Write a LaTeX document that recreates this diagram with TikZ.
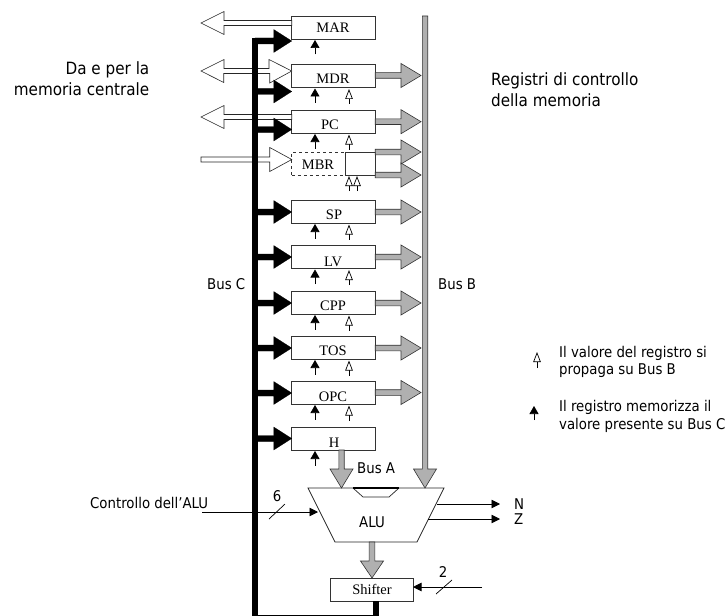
\documentclass[tikz,border=0pt]{standalone}
\usepackage{fontspec}
\setmainfont{Liberation Serif}
\newfontfamily\labfont{DejaVu Sans Condensed}
\usetikzlibrary{calc,arrows.meta,positioning}
\definecolor{busgrey}{RGB}{176,176,176}
\tikzset{
  regbox/.style={draw=black!80,line width=0.7pt,fill=white,minimum width=83.5pt,minimum height=23pt,inner sep=0pt,outer sep=0pt},
  regtext/.style={anchor=base,inner sep=0pt,font=\fontsize{14.5}{16}\selectfont},
  lab/.style={anchor=base west,inner sep=0pt,font=\labfont\fontsize{14.8}{16}\selectfont},
  biglab/.style={lab,font=\labfont\fontsize{16.9}{19}\selectfont},
  greyfat/.style={draw=black!80,line width=0.6pt,fill=busgrey},
  whitefat/.style={draw=black!85,line width=0.6pt,fill=white},
  blackfat/.style={draw=black,line width=0.2pt,fill=black},
  smallblack/.style={draw=black,line width=0.7pt,-{Triangle[length=8pt,width=9pt,fill=black]},shorten >=0pt},
  smallwhite/.style={draw=black,line width=0.7pt,-{Triangle[open,length=10pt,width=7.5pt,fill=white,line width=0.7pt]}},
  thin line/.style={draw=black,line width=0.7pt},
  thin arrow/.style={draw=black,line width=0.7pt,-{Triangle[length=8.5pt,width=8.5pt]}},
}
% #1 style, #2 from, #3 to, #4 head length, #5 head half width, #6 shaft half width
\newcommand{\fatarrow}[6]{%
  \path[#1] ($(#2)!#6pt!90:(#3)$) -- ($($(#3)!#4pt!(#2)$)!#6pt!90:(#3)$) -- ($($(#3)!#4pt!(#2)$)!#5pt!90:(#3)$) -- (#3)
    -- ($($(#3)!#4pt!(#2)$)!#5pt!-90:(#3)$) -- ($($(#3)!#4pt!(#2)$)!#6pt!-90:(#3)$) -- ($(#2)!#6pt!-90:(#3)$) -- cycle;}
\begin{document}
\begin{tikzpicture}[x=1pt,y=-1pt]
\useasboundingbox (0,0) rectangle (727,615);
\clip (0,0) rectangle (727,615);

% register boxes
\foreach \n/\cy in {MAR/27.5,MDR/76,PC/121.5,SP/211.5,LV/257,CPP/302.5,TOS/347.5,OPC/392.5,H/438.5}{
  \node[regbox] (\n) at (333.5,\cy) {};
}
\node[regbox,dashed] (MBR) at (333.5,163.5) {};
\node[regbox,minimum width=30pt,anchor=east] (MBRr) at (MBR.east) {};

% bus coordinates
\coordinate (Btop) at (425,16);
\coordinate (Bend) at (425,488);
\coordinate (Ctop) at (255,38.5);
\coordinate (Cbot) at (255,617.7);
\coordinate (Cfeed) at (375.5,617.7);

% ALU and shifter
\path[draw=black!85,line width=0.7pt,fill=white] (308,488) -- (444,488) -- (417,542) -- (335,542) -- cycle;
\coordinate (ALUtop) at (376,488);
\coordinate (ALUleft) at (318,512);
\coordinate (ALUn) at (437,504);
\coordinate (ALUz) at (428,519);
\coordinate (ALUb) at (372,542);
\path[draw=black!85,line width=0.7pt] (353,488) -- (363,497) -- (389,497) -- (399,488);
\draw[line width=2pt] (353,488) -- (399,488);
\node[regbox,minimum width=83pt] (Shifter) at (371.5,589.5) {};

% white fat arrows to memory (behind Bus C)
\coordinate (mM) at (201,23);
\coordinate (mP) at (201,117);
\coordinate (mB) at (201,159.5);
\coordinate (sM) at (MAR.west |- mM);
\coordinate (sP) at (MAR.west |- mP);
\coordinate (tB) at (MBR.west |- mB);
\fatarrow{whitefat}{sM}{mM}{23}{11.5}{2.5}
\fatarrow{whitefat}{sP}{mP}{23}{11.5}{2.5}
\fatarrow{whitefat}{mB}{tB}{22}{12}{2.5}
\coordinate (mD) at (201,71);
\coordinate (mDin) at (MDR.west |- mD);
\path[whitefat] (mD) -- ++(23,-11.5) -- ++(0,9) -- ++(45,0) -- ++(0,-9) -- (mDin)
  -- ++(-22,12) -- ++(0,-9.5) -- ++(-46,0) -- ++(0,9) -- cycle;

% Bus C
\draw[line width=6pt] (Shifter.south -| Cfeed) -- (Cfeed) -- (Cbot) -- (Ctop);

% Bus B
\fatarrow{greyfat}{Btop}{Bend}{19}{11.5}{2.7}

% black fat arrows from Bus C
\foreach \n/\y in {MAR/41,MDR/91.5,PC/129.5,SP/212,LV/257,CPP/303,TOS/348,OPC/393,H/438.5}{
  \coordinate (c\n) at (Ctop |- 0,\y);
  \coordinate (t\n) at (MAR.west |- 0,\y);
  \fatarrow{blackfat}{c\n}{t\n}{18}{11.5}{3}
}

% grey fat arrows to Bus B
\foreach \n/\y in {MDR/75.5,PC/121.7,SP/212,LV/257,CPP/303,TOS/348,OPC/392.5}{
  \coordinate (o\n) at (\n.east |- 0,\y);
  \coordinate (b\n) at (421,\y);
  \fatarrow{greyfat}{o\n}{b\n}{20}{12}{2.8}
}
\coordinate (oM1) at (MBR.east |- 0,152);
\coordinate (bM1) at (421,152);
\coordinate (oM2) at (MBR.east |- 0,175);
\coordinate (bM2) at (421,175);
\fatarrow{greyfat}{oM1}{bM1}{20}{12}{2.8}
\fatarrow{greyfat}{oM2}{bM2}{20}{12}{2.8}

% small control arrows
\foreach \n in {MAR,MDR,PC,SP,LV,CPP,TOS,OPC,H}{
  \coordinate (k\n) at ($(\n.south)+(-18.5,15.5)$);
  \draw[smallblack] (k\n) -- ($(\n.south)+(-18.5,1)$);
}
\foreach \n in {MDR,PC,SP,LV,CPP,TOS,OPC}{
  \coordinate (w\n) at ($(\n.south)+(15.5,16.5)$);
  \draw[smallwhite] (w\n) -- ($(\n.south)+(15.5,1.5)$);
}
\coordinate (wM1) at (349,191);
\coordinate (wM2) at (357,191);
\draw[smallwhite] (wM1) -- (349,176);
\draw[smallwhite] (wM2) -- (357,176);

% Bus A and ALU outputs
\coordinate (Atip) at (341.5,488);
\fatarrow{greyfat}{H.south -| Atip}{Atip}{19}{11.5}{2.7}
\coordinate (Stip) at (372,578);
\fatarrow{greyfat}{ALUb}{Stip}{17}{11.5}{2.9}

% thin lines
\coordinate (ctrlA) at (202,512);
\draw[thin arrow] (ctrlA) -- (ALUleft);
\coordinate (s6a) at (269,519); \coordinate (s6b) at (285,504);
\draw[thin line] (s6a) -- (s6b);
\coordinate (Nend) at (500,504);
\coordinate (Zend) at (500,519);
\draw[thin arrow] (ALUn) -- (Nend);
\draw[thin arrow] (ALUz) -- (Zend);
\coordinate (ctrlS) at (482,587);
\draw[thin arrow] (ctrlS) -- (Shifter.east |- ctrlS);
\coordinate (s2a) at (436,594); \coordinate (s2b) at (452,580);
\draw[thin line] (s2a) -- (s2b);

% legend arrows
\coordinate (l1a) at (537,368); \coordinate (l1b) at (537,352);
\coordinate (l2a) at (534,420); \coordinate (l2b) at (534,406);
\draw[smallwhite] (l1a) -- (l1b);
\draw[smallblack] (l2a) -- (l2b);

% register labels
\node[regtext] (tMAR) at (333,33) {MAR};
\node[regtext] (tMDR) at (333,84) {MDR};
\node[regtext] (tPC) at (330,129) {PC};
\node[regtext] (tMBR) at (318,169.5) {MBR};
\node[regtext] (tSP) at (334,219) {SP};
\node[regtext] (tLV) at (333,266) {LV};
\node[regtext] (tCPP) at (333,310) {CPP};
\node[regtext] (tTOS) at (333,355.5) {TOS};
\node[regtext] (tOPC) at (333,401.5) {OPC};
\node[regtext] (tH) at (334,447) {H};
\node[regtext] (tShifter) at (372,594.5) {Shifter};

% sans labels
\node[biglab,anchor=base east] (da1) at (149.5,74.5) {Da e per la};
\node[biglab,anchor=base east] (da2) at (149.5,95.5) {memoria centrale};
\node[biglab] (re1) at (491,85) {Registri di controllo};
\node[biglab] (re2) at (491,106.5) {della memoria};
\node[lab] (busc) at (207,289) {Bus C};
\node[lab] (busb) at (438,289) {Bus B};
\node[lab] (busa) at (357,473) {Bus A};
\node[lab,anchor=base] (alu) at (372,527) {ALU};
\node[lab] (ctl) at (90,508) {Controllo dell’ALU};
\node[lab,anchor=base] (six) at (277,501) {6};
\node[lab,anchor=base] (two) at (443,577) {2};
\node[lab] (nn) at (514,509) {N};
\node[lab] (zz) at (514,524) {Z};
\node[lab] (l1) at (559,357) {Il valore del registro si};
\node[lab] (l2) at (559,374) {propaga su Bus B};
\node[lab] (l3) at (559,411) {Il registro memorizza il};
\node[lab] (l4) at (559,429) {valore presente su Bus C};
\end{tikzpicture}
\end{document}
